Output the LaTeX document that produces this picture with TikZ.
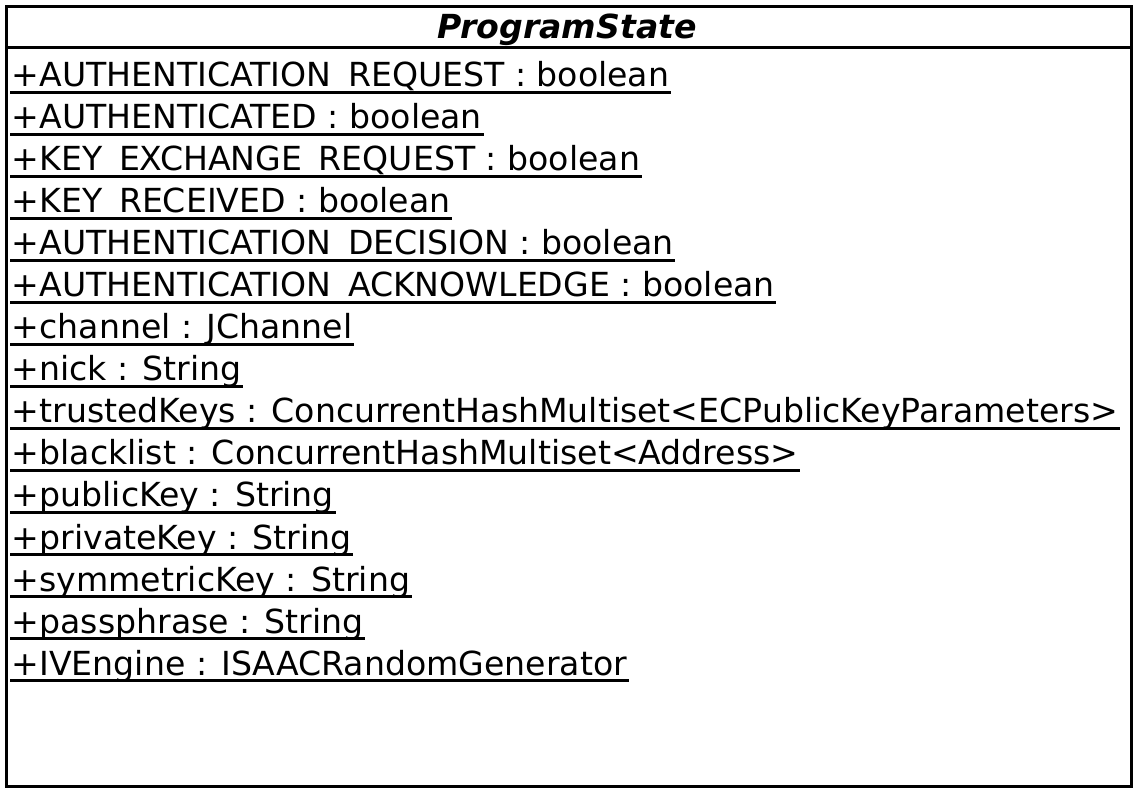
\documentclass[tikz,border=0pt]{standalone}
\usepackage{fontspec}
\setmainfont{DejaVu Sans}
\begin{document}
\begin{tikzpicture}[x=0.75pt,y=-0.75pt,
  frame/.style={draw=black,line width=2.25pt},
  attr/.style={anchor=base west,inner sep=0pt,font=\fontsize{24.85}{29}\selectfont},
  uline/.style={draw=black,line width=1.8pt},
  title/.style={anchor=base,inner sep=0pt,font=\fontsize{24.85}{29}\selectfont\bfseries\itshape}]
\useasboundingbox (0,0) rectangle (1143,798);
% class frame and name compartment
\draw[frame] (6.5,6.5) rectangle (1131.5,786.5);
\draw[frame] (6.5,48) -- (1131.5,48);
\node[title] (name) at (567,39) {ProgramState};
% static attributes, underlined
\foreach \t [count=\i from 0] in {
  {+AUTHENTICATION\_REQUEST : boolean},
  {+AUTHENTICATED : boolean},
  {+KEY\_EXCHANGE\_REQUEST : boolean},
  {+KEY\_RECEIVED : boolean},
  {+AUTHENTICATION\_DECISION : boolean},
  {+AUTHENTICATION\_ACKNOWLEDGE : boolean},
  {+channel : JChannel},
  {+nick : String},
  {+trustedKeys : ConcurrentHashMultiset<ECPublicKeyParameters>},
  {+blacklist : ConcurrentHashMultiset<Address>},
  {+publicKey : String},
  {+privateKey : String},
  {+symmetricKey : String},
  {+passphrase : String},
  {+IVEngine : ISAACRandomGenerator}}{
  \node[attr] (a\i) at (11.5,{87+42*\i}) {\t};
  \draw[uline] ([xshift=-1pt,yshift=-4pt]a\i.base west) -- ([xshift=1pt,yshift=-4pt]a\i.base east);
}
\end{tikzpicture}
\end{document}
